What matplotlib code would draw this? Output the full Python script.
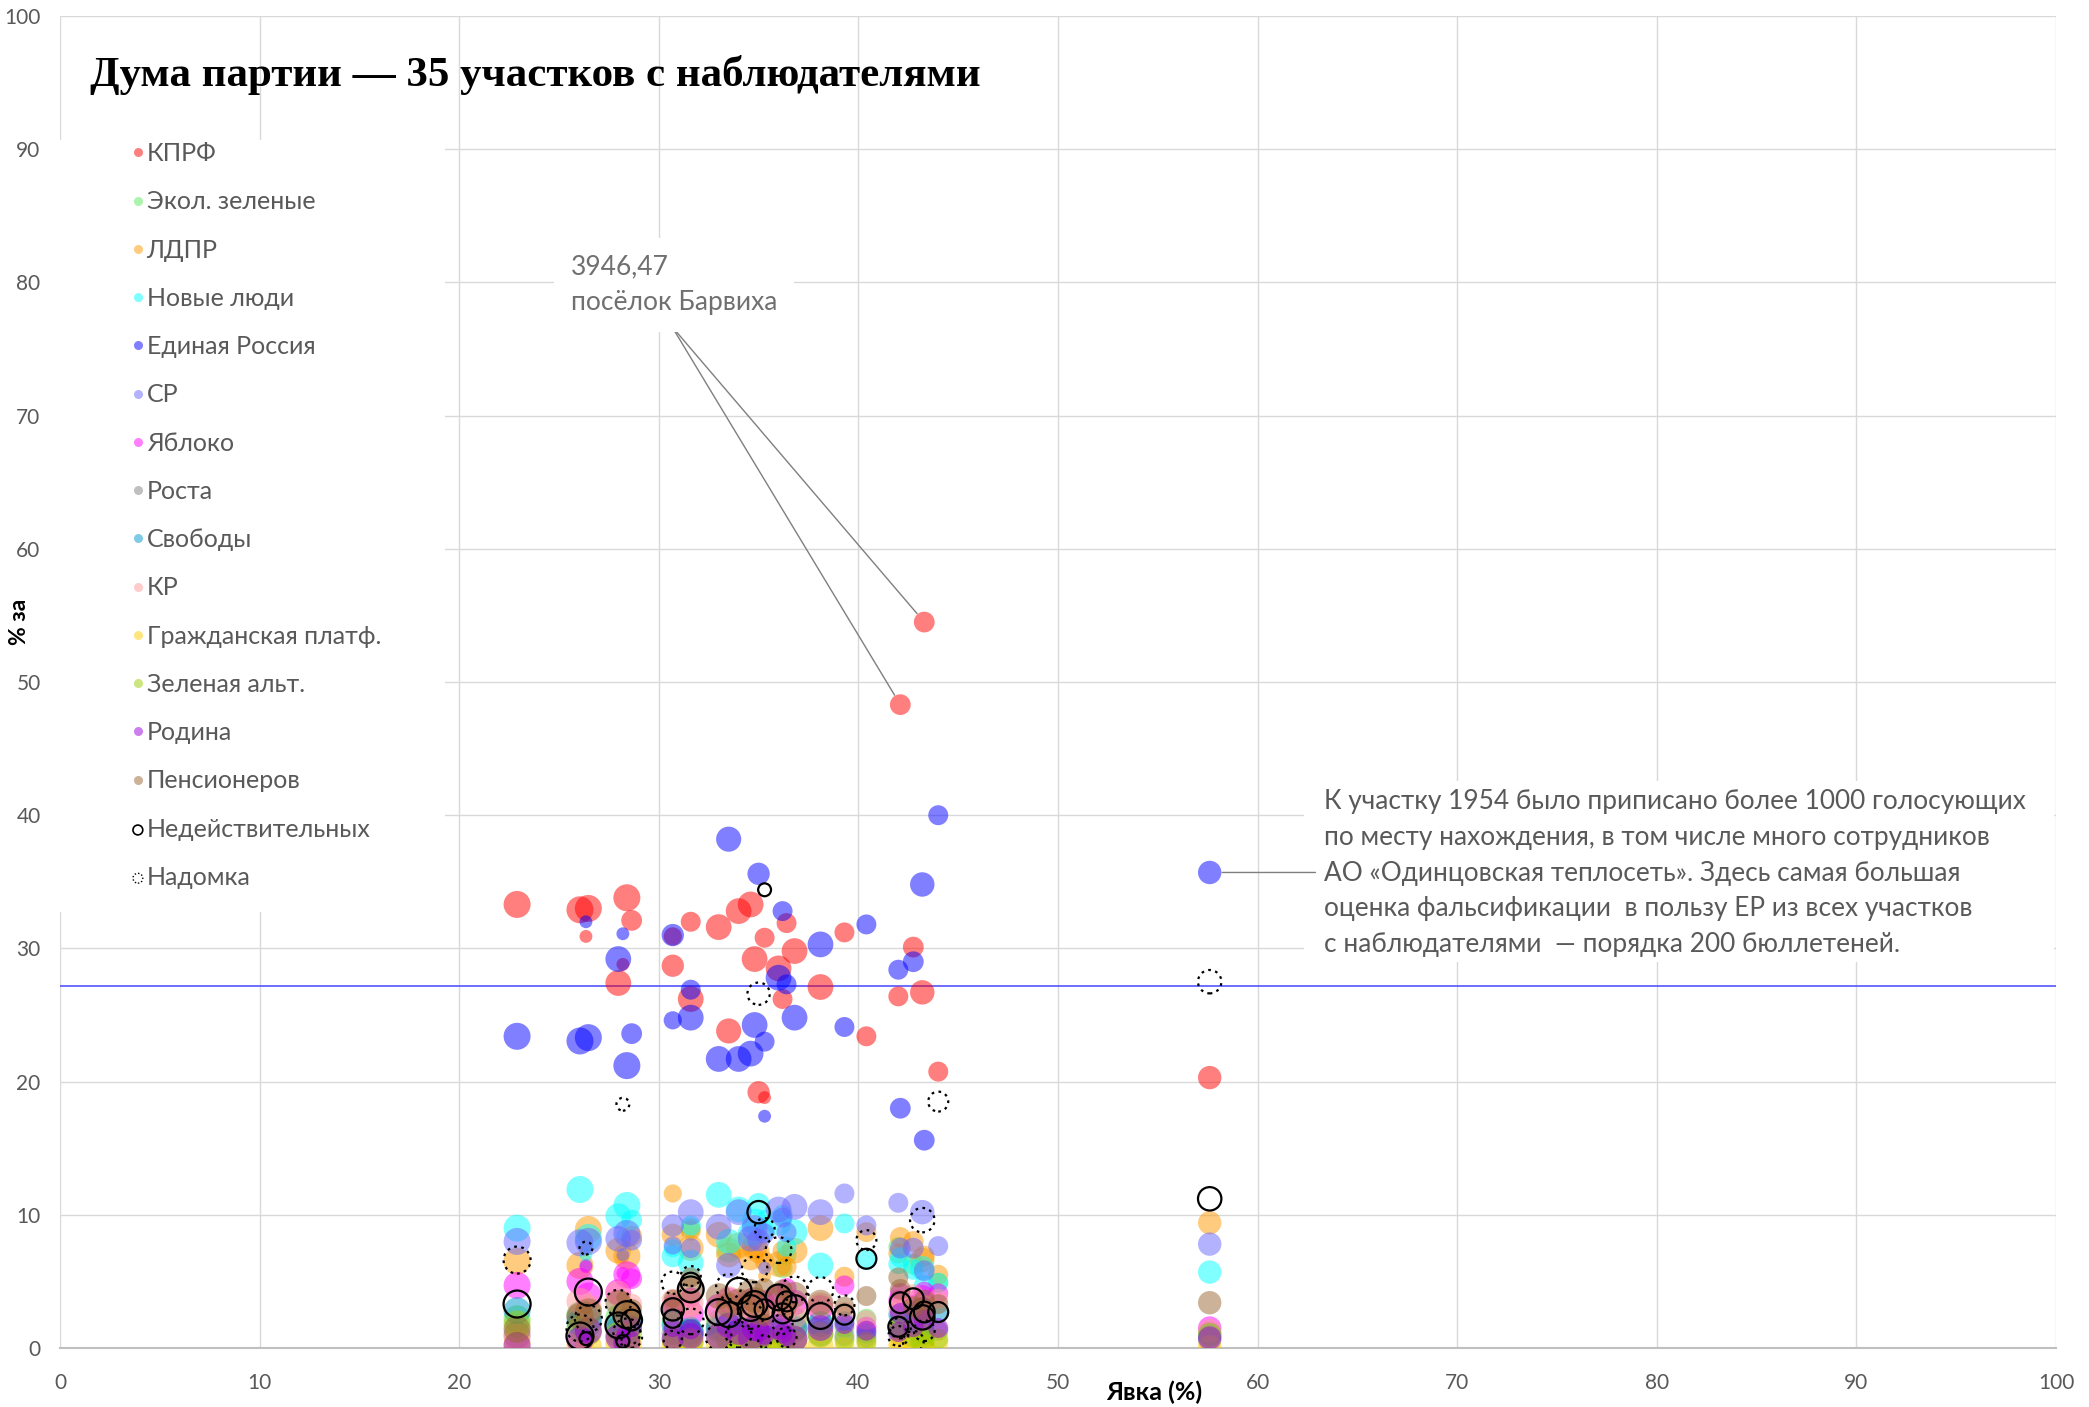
import matplotlib
matplotlib.use("Agg")
import matplotlib.pyplot as plt
from matplotlib.lines import Line2D
from matplotlib.patches import Rectangle

# --- data: 34 precincts ---
turnout = [22.9, 26.05, 26.35, 26.47, 27.97, 28.2, 28.4, 28.64, 30.7, 30.7,
           31.6, 31.6, 33.0, 33.5, 34.0, 34.6, 34.8, 35.0, 35.3, 35.3,
           36.0, 36.2, 36.4, 36.8, 38.1, 39.3, 40.4, 42.0, 42.1, 42.75,
           43.2, 43.3, 44.0, 57.6]
voters = [2200, 2200, 500, 2200, 2000, 500, 2200, 1300, 1500, 1000,
          1200, 2000, 2000, 1900, 2000, 2000, 2000, 1500, 1200, 500,
          2000, 1200, 1200, 2000, 2000, 1200, 1200, 1200, 1300, 1300,
          1800, 1300, 1200, 1650]

kprf = [33.3, 32.9, 30.9, 33.0, 27.4, 28.8, 33.8, 32.1, 28.7, 30.9,
        32.0, 26.2, 31.6, 23.8, 32.8, 33.3, 29.2, 19.2, 30.8, 18.8,
        28.5, 26.2, 31.9, 29.8, 27.1, 31.2, 23.4, 26.4, 48.3, 30.1,
        26.7, 54.5, 20.75, 20.3]
ekol = [2.2, 2.5, 1.6, 2.8, 2.3, 1.8, 2.7, 2.1, 2.0, 1.7,
        9.0, 1.2, 1.9, 7.35, 2.2, 1.9, 2.4, 1.6, 2.0, 0.9,
        2.6, 6.0, 7.0, 2.1, 1.8, 1.5, 2.2, 7.6, 2.3, 6.3,
        1.9, 3.0, 4.9, 1.1]
ldpr = [6.5, 6.2, 7.4, 8.9, 7.3, 6.8, 6.9, 8.4, 8.5, 11.6,
        8.8, 7.5, 8.5, 7.0, 7.7, 6.8, 7.6, 7.2, 6.5, 5.4,
        6.3, 7.3, 6.1, 7.3, 9.0, 5.35, 8.7, 7.1, 8.3, 8.0,
        6.6, 6.9, 5.5, 9.4]
novye = [9.0, 11.9, 7.0, 8.3, 9.9, 8.5, 10.7, 9.6, 6.9, 7.5,
         9.2, 6.4, 11.5, 8.0, 10.4, 8.6, 9.5, 10.8, 8.8, 9.9,
         9.4, 10.0, 7.6, 8.7, 6.2, 9.35, 6.6, 6.3, 6.8, 5.9,
         6.0, 4.7, 4.9, 5.7]
er = [23.4, 23.05, 32.0, 23.3, 29.2, 31.1, 21.2, 23.6, 31.0, 24.6,
      26.9, 24.8, 21.7, 38.2, 21.7, 22.1, 24.25, 35.6, 23.0, 17.4,
      27.8, 32.8, 27.3, 24.8, 30.3, 24.1, 31.8, 28.4, 18.0, 29.0,
      34.8, 15.6, 40.0, 35.7]
sr = [8.0, 7.9, 6.2, 8.0, 8.2, 7.0, 8.6, 8.1, 9.2, 7.7,
      7.5, 10.2, 9.1, 6.2, 10.2, 8.2, 9.0, 8.1, 8.6, 6.0,
      10.4, 9.8, 8.7, 10.6, 10.2, 11.6, 9.2, 10.9, 7.5, 7.5,
      10.2, 5.8, 7.65, 7.8]
yabloko = [4.7, 5.0, 6.1, 3.9, 4.2, 5.6, 5.5, 5.2, 3.0, 3.4,
           3.8, 2.6, 3.1, 3.6, 3.0, 3.5, 2.9, 3.3, 3.6, 2.2,
           3.8, 3.1, 4.5, 3.4, 3.0, 4.7, 1.6, 3.6, 4.1, 3.2,
           3.8, 4.2, 4.1, 1.5]
rosta = [1.0, 2.3, 1.5, 1.9, 1.4, 1.2, 2.0, 1.6, 1.1, 1.3,
         1.5, 1.2, 1.6, 1.0, 1.4, 1.2, 1.3, 0.9, 1.1, 0.8,
         1.3, 1.0, 1.2, 1.5, 1.1, 0.9, 0.8, 1.0, 1.2, 1.4,
         0.9, 1.1, 1.3, 0.6]
svobody = [2.8, 1.9, 1.4, 2.2, 1.7, 2.4, 1.3, 1.9, 1.7, 2.3,
           1.6, 1.2, 1.4, 1.8, 1.5, 1.9, 1.0, 1.3, 1.7, 0.7,
           1.2, 1.5, 1.0, 1.4, 1.8, 2.0, 1.1, 2.5, 1.6, 2.8,
           1.3, 2.9, 2.7, 0.9]
kr = [0.8, 3.5, 2.6, 3.0, 4.1, 1.6, 2.5, 3.3, 3.6, 2.0,
      2.9, 3.4, 2.4, 3.7, 2.8, 3.2, 2.3, 3.0, 2.6, 1.8,
      2.2, 3.3, 2.7, 2.4, 3.2, 2.7, 2.1, 3.0, 3.4, 4.0,
      2.1, 3.2, 3.7, 1.3]
grazhd = [0.3, 0.2, 0.4, 0.1, 0.3, 0.2, 0.4, 0.3, 0.2, 0.1,
          0.3, 0.4, 0.2, 0.3, 0.1, 0.2, 0.3, 0.4, 0.2, 0.1,
          0.3, 0.2, 0.4, 0.3, 0.2, 0.1, 0.3, 0.2, 0.2, 0.4,
          0.3, 0.2, 0.4, 0.1]
zel_alt = [1.8, 1.4, 0.8, 1.2, 1.0, 0.9, 0.7, 1.1, 0.6, 0.9,
           0.8, 0.5, 0.9, 0.6, 0.7, 1.0, 0.5, 0.6, 0.8, 0.4,
           0.6, 0.9, 0.5, 0.7, 1.0, 0.6, 0.5, 1.4, 1.7, 0.8,
           0.6, 1.0, 0.7, 1.0]
rodina = [0.2, 0.6, 0.9, 1.3, 0.8, 1.1, 0.4, 1.6, 0.7, 1.5,
          1.4, 0.9, 0.9, 1.7, 1.2, 0.8, 1.5, 1.3, 1.0, 0.6,
          1.6, 1.1, 0.9, 0.7, 1.5, 1.8, 1.3, 1.2, 2.6, 1.6,
          2.9, 2.1, 1.5, 0.75]
pens = [1.4, 2.4, 3.0, 2.7, 3.4, 3.8, 2.6, 2.9, 2.8, 3.7,
        5.3, 4.3, 3.9, 3.2, 3.5, 4.2, 3.6, 2.6, 4.5, 2.1,
        3.9, 4.4, 3.0, 4.0, 3.4, 3.1, 3.9, 5.3, 4.4, 3.1,
        2.8, 3.6, 3.3, 3.4]
invalid = [3.3, 0.9, 0.7, 4.2, 1.7, 0.5, 2.5, 2.1, 2.9, 2.2,
           4.9, 4.4, 2.7, 2.5, 4.3, 3.0, 3.3, 10.2, 2.9, 34.4,
           3.8, 2.6, 3.5, 3.0, 2.4, 2.5, 6.7, 1.6, 3.4, 3.7,
           2.3, 2.7, 2.7, 11.2]
home = [6.6, 1.5, 7.5, 2.2, 3.4, 18.3, 1.2, 0.8, 4.9, 0.6,
        5.4, 2.0, 0.8, 4.6, 1.0, 2.4, 5.9, 26.6, 9.0, 0.5,
        7.35, 1.8, 0.8, 4.4, 4.35, 3.2, 8.1, 0.9, 1.5, 0.5,
        9.6, 1.3, 18.5, 27.5]

er_level = 27.2  # horizontal reference line

filled = [
    ("КПРФ", kprf, "#FF0000"),
    ("Экол. зеленые", ekol, "#5BE85B"),
    ("ЛДПР", ldpr, "#FF9900"),
    ("Новые люди", novye, "#00FFFF"),
    ("Единая Россия", er, "#0000FF"),
    ("СР", sr, "#6666FF"),
    ("Яблоко", yabloko, "#FF00FF"),
    ("Роста", rosta, "#808080"),
    ("Свободы", svobody, "#0099CC"),
    ("КР", kr, "#FF9999"),
    ("Гражданская платф.", grazhd, "#FFCC00"),
    ("Зеленая альт.", zel_alt, "#99CC00"),
    ("Родина", rodina, "#9900DD"),
    ("Пенсионеров", pens, "#996633"),
]

W, H = 2089, 1407
fig = plt.figure(figsize=(W / 100, H / 100), dpi=100)
ax = fig.add_axes([60 / W, 1 - 1348 / H, 1996 / W, 1332 / H])

sizes = [v * 0.172 for v in voters]
for name, vals, col in filled:
    ax.scatter(turnout, vals, s=sizes, color=col, alpha=0.5, linewidths=0, zorder=3)
ax.scatter(turnout, invalid, s=sizes, facecolors="none", edgecolors="black",
           linewidths=1.6, zorder=4)
ax.scatter(turnout, home, s=sizes, facecolors="none", edgecolors="black",
           linewidths=1.6, linestyles=(0, (1.2, 2)), zorder=4)

ax.axhline(er_level, color="#5555FF", lw=1.2, zorder=2)

# axes styling
ax.set_xlim(0, 100)
ax.set_ylim(0, 100)
ax.set_xticks(range(0, 101, 10))
ax.set_yticks(range(0, 101, 10))
ax.grid(True, color="#D9D9D9", lw=1.0, zorder=0)
ax.set_axisbelow(True)
for side in ["top", "right", "left"]:
    ax.spines[side].set_visible(False)
ax.spines["bottom"].set_color("#BFBFBF")
ax.spines["bottom"].set_linewidth(1.5)
ax.tick_params(length=0, labelsize=15, labelcolor="#595959")
ax.tick_params(axis="x", pad=18)
ax.tick_params(axis="y", pad=14)
for lab in ax.get_xticklabels() + ax.get_yticklabels():
    lab.set_fontfamily("Lato")

# legend on a white panel that hides the grid
ax.add_patch(Rectangle((0, 0.327), 0.193, 0.58, transform=ax.transAxes,
                       facecolor="white", edgecolor="none", zorder=1.5))
handles = [Line2D([], [], marker="o", ls="none", markersize=6.5, color=c, alpha=0.5,
                  markeredgewidth=0) for _, _, c in filled]
labels = [n for n, _, _ in filled]
handles.append(ax.scatter([], [], s=50, facecolors="none", edgecolors="black",
                          linewidths=1.2))
labels.append("Недействительных")
handles.append(ax.scatter([], [], s=50, facecolors="none", edgecolors="black",
                          linewidths=1.0, linestyles=(0, (1, 1.5))))
labels.append("Надомка")
leg = ax.legend(handles, labels, loc="upper left", bbox_to_anchor=(0.0315, 0.911),
                frameon=False, prop={"family": "Lato", "size": 18}, labelcolor="#595959",
                handlelength=0.6, handletextpad=0.05, labelspacing=1.01,
                borderpad=0.3, borderaxespad=0, scatterpoints=1)
leg.set_zorder(5)

# title and axis labels
fig.text(90 / W, 1 - 75 / H, "Дума партии — 35 участков с наблюдателями",
         family="Liberation Serif", weight="bold", fontsize=31, va="center", ha="left")
fig.text(1154 / W, 1 - 1392 / H, "Явка (%)", family="Lato", weight="bold",
         fontsize=18, ha="center", va="center")
fig.text(20 / W, 1 - 622 / H, "% за", family="Lato", weight="bold",
         fontsize=16.5, ha="center", va="center", rotation=90)

# Barvikha annotation
ax.text(25.6, 79.8, "3946,47\nпосёлок Барвиха", family="Lato", fontsize=19,
        color="#707070", va="center", ha="left", linespacing=1.54,
        bbox=dict(facecolor="white", edgecolor="none", pad=12), zorder=5)
for i in (28, 31):
    ax.annotate("", xy=(turnout[i], kprf[i]), xytext=(30.65, 76.7),
                arrowprops=dict(arrowstyle="-", color="#7F7F7F", lw=1.0,
                                shrinkA=0, shrinkB=8), zorder=2)

# note for precinct 1954
note = ("К участку 1954 было приписано более 1000 голосующих\n"
        "по месту нахождения, в том числе много сотрудников\n"
        "АО «Одинцовская теплосеть». Здесь самая большая\n"
        "оценка фальсификации  в пользу ЕР из всех участков\n"
        "с наблюдателями  — порядка 200 бюллетеней.")
ax.add_patch(Rectangle((62.3, 29.0), 37.6, 13.6, transform=ax.transData,
                       facecolor="white", edgecolor="none", zorder=2))
ax.text(63.35, 35.65, note, family="Lato", fontsize=18.9, color="#595959",
        va="center", ha="left", linespacing=1.54, zorder=5)
ax.annotate("", xy=(turnout[33], er[33]), xytext=(62.9, er[33]),
            arrowprops=dict(arrowstyle="-", color="#7F7F7F", lw=1.0,
                            shrinkA=0, shrinkB=9), zorder=2)

fig.savefig("out.png", dpi=100)
